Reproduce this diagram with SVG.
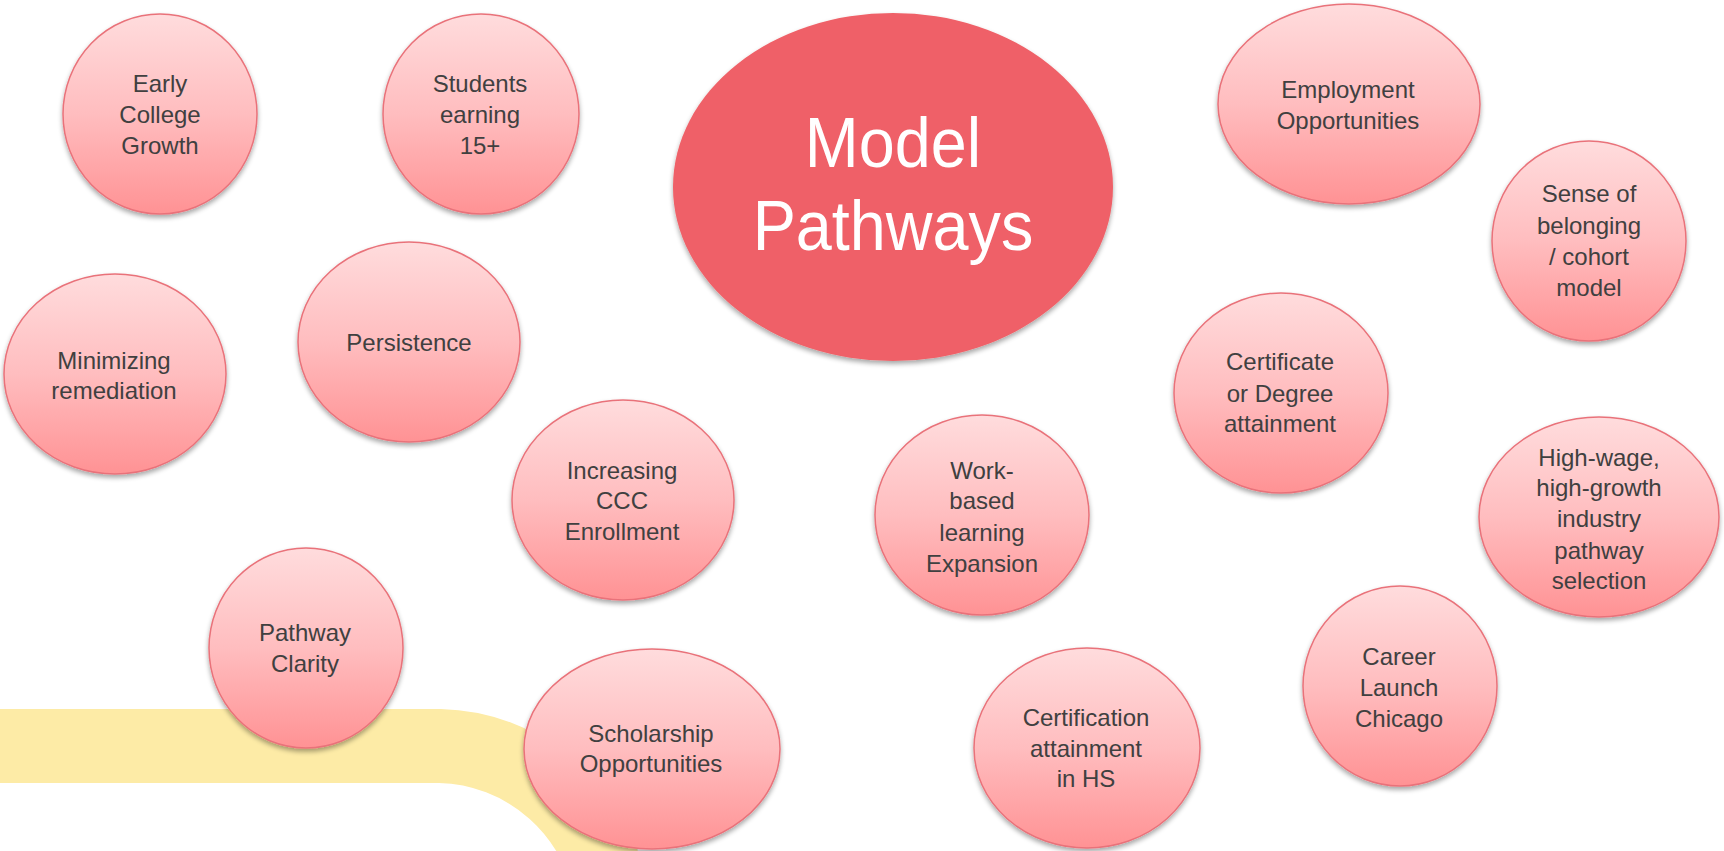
<svg xmlns="http://www.w3.org/2000/svg" width="1724" height="851" viewBox="0 0 1724 851">
<style>
.n{fill:url(#g);stroke:#E9727A;stroke-width:1.5;filter:url(#sh)}
.t{font-family:"Liberation Sans",Arial,sans-serif;font-size:24px;fill:#404040;text-anchor:middle}
.c{font-family:"Liberation Sans",Arial,sans-serif;font-size:70px;fill:#FFFFFF;text-anchor:middle}
</style>
<defs>
<linearGradient id="g" x1="0" y1="0" x2="0" y2="1">
<stop offset="0" stop-color="#FFDCDD"/>
<stop offset="0.5" stop-color="#FFBDBF"/>
<stop offset="1" stop-color="#FF9294"/>
</linearGradient>
<filter id="sh" x="-10%" y="-10%" width="120%" height="125%">
<feGaussianBlur in="SourceAlpha" stdDeviation="2.5"/>
<feOffset dx="0" dy="3" result="b"/>
<feComponentTransfer><feFuncA type="linear" slope="0.35"/></feComponentTransfer>
<feMerge><feMergeNode/><feMergeNode in="SourceGraphic"/></feMerge>
</filter>
</defs>
<rect width="1724" height="851" fill="#FFFFFF"/>
<g id="band">
<path d="M -10 746 H 440 A 178 178 0 0 1 612 900" fill="none" stroke="#FDEBA6" stroke-width="74"/>
</g>
<g id="connectors"></g>
<g id="model-pathways">
<ellipse cx="893" cy="187" rx="220" ry="174" fill="#EF6167" filter="url(#sh)"/>
<g transform="translate(893 0) scale(0.925 1)">
<text class="c" x="0" y="167">Model</text>
<text class="c" x="0" y="250">Pathways</text>
</g>
</g>
<g id="early-college">
<ellipse class="n" cx="160" cy="114" rx="97" ry="100"/>
<text class="t" x="160" y="92">Early</text>
<text class="t" x="160" y="123">College</text>
<text class="t" x="160" y="154">Growth</text>
</g>
<g id="students-earning">
<ellipse class="n" cx="481" cy="114" rx="98" ry="100"/>
<text class="t" x="480" y="92">Students</text>
<text class="t" x="480" y="123">earning</text>
<text class="t" x="480" y="154">15+</text>
</g>
<g id="minimizing">
<ellipse class="n" cx="115" cy="374" rx="111" ry="100"/>
<text class="t" x="114" y="369">Minimizing</text>
<text class="t" x="114" y="399">remediation</text>
</g>
<g id="persistence">
<ellipse class="n" cx="409" cy="342" rx="111" ry="100"/>
<text class="t" x="409" y="351">Persistence</text>
</g>
<g id="increasing-ccc">
<ellipse class="n" cx="623" cy="500" rx="111" ry="100"/>
<text class="t" x="622" y="479">Increasing</text>
<text class="t" x="622" y="509">CCC</text>
<text class="t" x="622" y="540">Enrollment</text>
</g>
<g id="pathway-clarity">
<ellipse class="n" cx="306" cy="648" rx="97" ry="100"/>
<text class="t" x="305" y="641">Pathway</text>
<text class="t" x="305" y="672">Clarity</text>
</g>
<g id="scholarship">
<ellipse class="n" cx="652" cy="749" rx="128" ry="100"/>
<text class="t" x="651" y="742">Scholarship</text>
<text class="t" x="651" y="772">Opportunities</text>
</g>
<g id="employment">
<ellipse class="n" cx="1349" cy="104" rx="131" ry="100"/>
<text class="t" x="1348" y="98">Employment</text>
<text class="t" x="1348" y="129">Opportunities</text>
</g>
<g id="sense-of-belonging">
<ellipse class="n" cx="1589" cy="241" rx="97" ry="100"/>
<text class="t" x="1589" y="202">Sense of</text>
<text class="t" x="1589" y="234">belonging</text>
<text class="t" x="1589" y="265">/ cohort</text>
<text class="t" x="1589" y="296">model</text>
</g>
<g id="certificate-degree">
<ellipse class="n" cx="1281" cy="393" rx="107" ry="100"/>
<text class="t" x="1280" y="370">Certificate</text>
<text class="t" x="1280" y="402">or Degree</text>
<text class="t" x="1280" y="432">attainment</text>
</g>
<g id="work-based">
<ellipse class="n" cx="982" cy="515" rx="107" ry="100"/>
<text class="t" x="982" y="479">Work-</text>
<text class="t" x="982" y="509">based</text>
<text class="t" x="982" y="541">learning</text>
<text class="t" x="982" y="572">Expansion</text>
</g>
<g id="high-wage">
<ellipse class="n" cx="1599" cy="517" rx="120" ry="100"/>
<text class="t" x="1599" y="466">High-wage,</text>
<text class="t" x="1599" y="496">high-growth</text>
<text class="t" x="1599" y="527">industry</text>
<text class="t" x="1599" y="559">pathway</text>
<text class="t" x="1599" y="589">selection</text>
</g>
<g id="career-launch">
<ellipse class="n" cx="1400" cy="686" rx="97" ry="100"/>
<text class="t" x="1399" y="665">Career</text>
<text class="t" x="1399" y="696">Launch</text>
<text class="t" x="1399" y="727">Chicago</text>
</g>
<g id="certification-hs">
<ellipse class="n" cx="1087" cy="748" rx="113" ry="100"/>
<text class="t" x="1086" y="726">Certification</text>
<text class="t" x="1086" y="757">attainment</text>
<text class="t" x="1086" y="787">in HS</text>
</g>
</svg>
